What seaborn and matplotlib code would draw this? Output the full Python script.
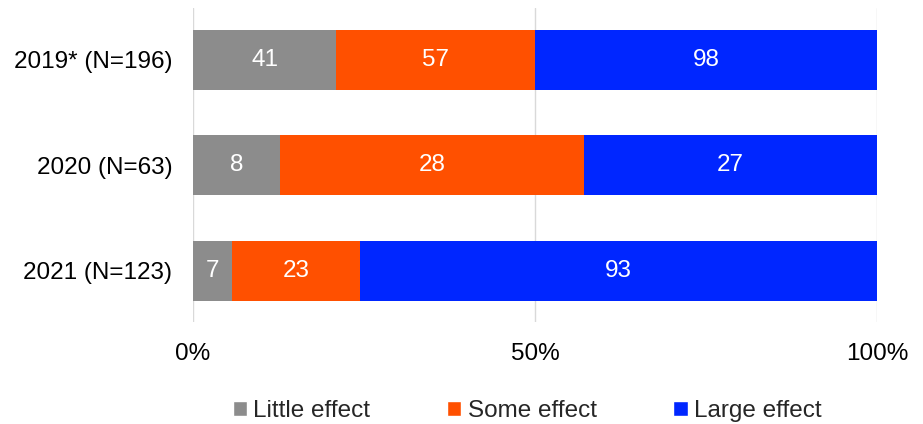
import matplotlib
matplotlib.use("Agg")
import matplotlib.pyplot as plt
import seaborn as sns
import pandas as pd
import numpy as np
from matplotlib.patches import Patch

categories = ["2019* (N=196)", "2020 (N=63)", "2021 (N=123)"]
little = [41, 8, 7]
some = [57, 28, 23]
large = [98, 27, 93]
series_names = ["Little effect", "Some effect", "Large effect"]
colors = ["#8c8c8c", "#ff5000", "#0026ff"]
xticks = [0, 50, 100]
xtick_labels = ["0%", "50%", "100%"]

sns.set_theme(style="white")
plt.rcParams["font.family"] = ["Liberation Sans", "DejaVu Sans"]

FS = 17.5
counts = np.array([little, some, large], dtype=float)
totals = counts.sum(axis=0)
pct = counts / totals * 100
cum = np.cumsum(pct, axis=0)

fig = plt.figure(figsize=(9.23, 4.24), dpi=100)
ax = fig.add_axes([193/923, 1-322/424, (877-193)/923, (322-8)/424])

# draw from the largest cumulative down so segments stack
for i in range(2, -1, -1):
    df = pd.DataFrame({"cat": categories, "val": cum[i]})
    sns.barplot(data=df, x="val", y="cat", orient="h", color=colors[i],
                width=0.57, ax=ax, saturation=1, zorder=2, linewidth=0)

for i in range(3):
    starts = cum[i] - pct[i]
    for j, cat in enumerate(categories):
        ax.text(starts[j] + pct[i][j] / 2, j, f"{int(counts[i][j])}",
                ha="center", va="center", color="white", fontsize=FS, zorder=3)

ax.set_xlim(0, 100)
ax.set_ylim(2.486, -0.493)
ax.set_xticks(xticks)
ax.set_xticklabels(xtick_labels, fontsize=FS)
ax.tick_params(axis="y", labelsize=FS, length=0, pad=15)
ax.tick_params(axis="x", length=0, pad=15)
ax.set_xlabel("")
ax.set_ylabel("")
for s in ax.spines.values():
    s.set_visible(False)
ax.grid(axis="x", color="#d9d9d9", linewidth=1, zorder=0)
ax.set_axisbelow(True)
for lbl in ax.get_xticklabels() + ax.get_yticklabels():
    lbl.set_color("#000000")

handles = [Patch(facecolor=c, label=n) for c, n in zip(colors, series_names)]
fig.legend(handles=handles, loc="center", bbox_to_anchor=(0.571, 1-411/424),
           ncol=3, frameon=False, fontsize=FS, handlelength=0.6, handleheight=0.6,
           handletextpad=0.25, columnspacing=3.15, borderpad=0)

fig.savefig("out.png", dpi=100)
